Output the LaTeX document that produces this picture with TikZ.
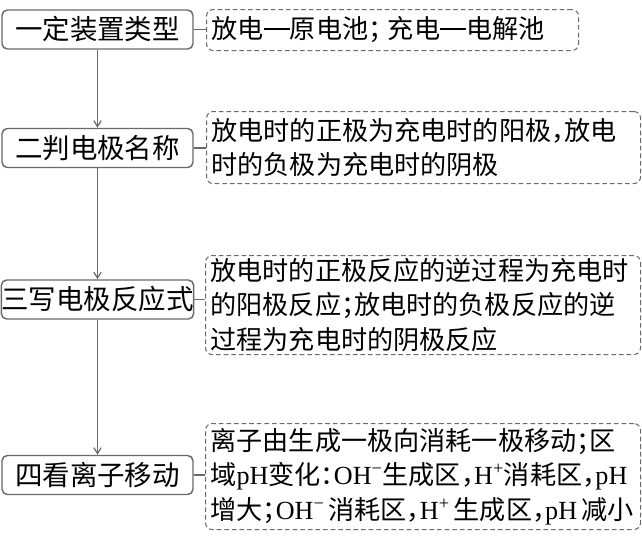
\documentclass[tikz,border=0pt]{standalone}
\usepackage{fontspec}
\setmainfont{Noto Sans CJK SC}
\newfontfamily\lfont{Liberation Serif}
\usetikzlibrary{arrows.meta}
\newcommand{\lt}[1]{{\lfont #1}}
\newcommand{\hw}[1]{\makebox[0.5em][l]{#1}}
\newcommand{\cdash}{\makebox[1em]{\rule[0.36em]{0.98em}{0.06em}}}
\definecolor{linegray}{HTML}{6A6A6A}
\begin{document}
\begin{tikzpicture}[x=0.75pt,y=-0.75pt,
  font=\fontsize{19.6}{25.8}\selectfont,
  lbox/.style={draw=linegray, line width=1.1pt, rounded corners=4pt,
    minimum width=143.25pt, minimum height=29.25pt, inner sep=0pt,
    font=\fontsize{20.6}{25.8}\selectfont},
  dbox/.style={draw=linegray, dash pattern=on 3.5pt off 2.2pt, line width=0.8pt,
    rounded corners=5pt, anchor=north west, align=left, inner xsep=3.75pt, inner ysep=0pt},
  conn/.style={draw=linegray, line width=0.9pt},
  arr/.style={conn, -{Straight Barb[length=4.5pt,width=5.5pt]}}]
\useasboundingbox (0,0) rectangle (642,537);

\node[lbox] (b1) at (97.5,29.5) {一定装置类型};
\node[lbox] (b2) at (97.5,148) {二判电极名称};
\node[lbox] (b3) at (97.5,299.5) {三写电极反应式};
\node[lbox] (b4) at (97.5,475) {四看离子移动};

\node[dbox, text width=271.5pt, minimum height=30.75pt] (d1) at (206,9)
  {放电\cdash 原电池\hw{；}\hspace{0.25em}充电\cdash 电解池};
\node[dbox, text width=318pt, minimum height=54pt] (d2) at (206,111)
  {放电时的正极为充电时的阳极\hw{，}放电\\时的负极为充电时的阴极};
\node[dbox, text width=318.75pt, minimum height=74.25pt] (d3) at (205,255)
  {放电时的正极反应的逆过程为充电时\\的阳极反应\hw{；}放电时的负极反应的逆\\过程为充电时的阴极反应};
\node[dbox, text width=318.75pt, minimum height=79.5pt] (d4) at (205,423)
  {离子由生成一极向消耗一极移动\hw{；}区\\
   域\lt{pH}变化\hw{：}\lt{OH\textsuperscript{−}}生成区\hw{，}\lt{H\textsuperscript{+}}消耗区\hw{，}\lt{pH}\\
   增大\hw{；}\lt{OH\textsuperscript{−}}\hspace{0.15em}消耗区\hw{，}\lt{H\textsuperscript{+}}\hspace{0.15em}生成区\hw{，}\lt{pH}\hspace{0.15em}减小};

\draw[arr] (b1.south) -- (b2.north);
\draw[arr] (b2.south) -- (b3.north);
\draw[arr] (b3.south) -- (b4.north);

\draw[conn] (b1.east) -- (b1.east -| d1.west);
\draw[conn] (b2.east) -- (b2.east -| d2.west);
\draw[conn] (b3.east) -- (b3.east -| d3.west);
\draw[conn] (b4.east) -- (b4.east -| d4.west);
\end{tikzpicture}
\end{document}
